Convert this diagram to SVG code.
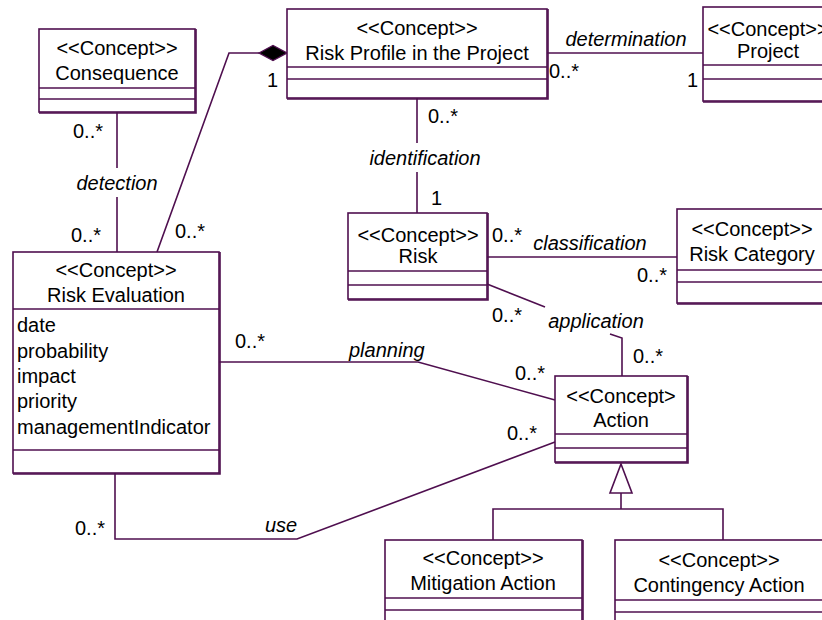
<svg xmlns="http://www.w3.org/2000/svg" width="822" height="620" viewBox="0 0 822 620">
<style>
.box{fill:#fff;stroke:#4f0f4f;stroke-width:1.6}
.sh{fill:none;stroke:#4f0f4f;stroke-width:1.6}
.div{stroke:#4f0f4f;stroke-width:1.4}
.ln{fill:none;stroke:#4f0f4f;stroke-width:1.6}
text{font-family:"Liberation Sans",Arial,sans-serif;font-size:20px;fill:#000}
.c{text-anchor:middle}
.i{font-style:italic}
</style>
<rect width="822" height="620" fill="#fff"/>
<g id="connectors">
  <!-- detection -->
  <line class="ln" x1="117" y1="112" x2="117" y2="168"/>
  <line class="ln" x1="117" y1="197" x2="117" y2="252"/>
  <text class="c i" x="117" y="190">detection</text>
  <text x="73" y="138">0..*</text>
  <text x="71" y="242">0..*</text>
  <!-- composition -->
  <polyline class="ln" points="157,252 229,53 259,53"/>
  <polygon points="259,53 273,45.5 287,53 273,60.5" fill="#000" stroke="#4f0f4f" stroke-width="1.4"/>
  <text x="175" y="238">0..*</text>
  <text x="267" y="87">1</text>
  <!-- determination -->
  <line class="ln" x1="547" y1="53" x2="703" y2="53"/>
  <text class="c i" x="626" y="46">determination</text>
  <text x="549" y="78">0..*</text>
  <text x="687" y="87">1</text>
  <!-- identification -->
  <line class="ln" x1="417" y1="98" x2="417" y2="143"/>
  <line class="ln" x1="417" y1="172" x2="417" y2="213"/>
  <text class="c i" x="425" y="165">identification</text>
  <text x="428" y="123">0..*</text>
  <text x="431" y="205">1</text>
  <!-- classification -->
  <line class="ln" x1="487" y1="257" x2="677" y2="257"/>
  <text class="c i" x="590" y="250">classification</text>
  <text x="492" y="242">0..*</text>
  <text x="637" y="282">0..*</text>
  <!-- application -->
  <polyline class="ln" points="487,284 545,307"/>
  <polyline class="ln" points="610,334 622,338 622,376"/>
  <text class="c i" x="596" y="328">application</text>
  <text x="492" y="322">0..*</text>
  <text x="633" y="363">0..*</text>
  <!-- planning -->
  <polyline class="ln" points="219,362 418,362 555,400"/>
  <text class="i" x="349" y="357">planning</text>
  <text x="235" y="348">0..*</text>
  <text x="515" y="380">0..*</text>
  <!-- use -->
  <polyline class="ln" points="115,473 115,539 297,539 555,442"/>
  <text class="i" x="265" y="532">use</text>
  <text x="75" y="535">0..*</text>
  <text x="507" y="440">0..*</text>
  <!-- generalization -->
  <polyline class="ln" points="493,540 493,509 723,509 723,540"/>
  <line class="ln" x1="621" y1="493" x2="621" y2="509"/>
  <polygon points="621,464 632,493 610,493" fill="#fff" stroke="#4f0f4f" stroke-width="1.6"/>
</g>
<g id="consequence">
  <rect class="box" x="39" y="29" width="156" height="83"/>
  <polyline class="sh" points="39,113 196,113 196,29"/>
  <line class="div" x1="39" y1="88" x2="195" y2="88"/>
  <line class="div" x1="39" y1="99" x2="195" y2="99"/>
  <text class="c" x="117" y="55">&lt;&lt;Concept&gt;&gt;</text>
  <text class="c" x="117" y="80">Consequence</text>
</g>
<g id="risk-profile">
  <rect class="box" x="287" y="9" width="260" height="89"/>
  <polyline class="sh" points="287,99 548,99 548,9"/>
  <line class="div" x1="287" y1="67" x2="547" y2="67"/>
  <line class="div" x1="287" y1="79" x2="547" y2="79"/>
  <text class="c" x="417" y="35">&lt;&lt;Concept&gt;&gt;</text>
  <text class="c" x="417" y="60">Risk Profile in the Project</text>
</g>
<g id="project">
  <rect class="box" x="703" y="7" width="130" height="94"/>
  <polyline class="sh" points="703,102 834,102"/>
  <line class="div" x1="703" y1="65" x2="833" y2="65"/>
  <line class="div" x1="703" y1="79" x2="833" y2="79"/>
  <text class="c" x="768" y="36">&lt;&lt;Concept&gt;&gt;</text>
  <text class="c" x="768" y="58">Project</text>
</g>
<g id="risk">
  <rect class="box" x="348" y="213" width="139" height="86"/>
  <polyline class="sh" points="348,300 488,300 488,213"/>
  <line class="div" x1="348" y1="271" x2="487" y2="271"/>
  <line class="div" x1="348" y1="285" x2="487" y2="285"/>
  <text class="c" x="418" y="242">&lt;&lt;Concept&gt;&gt;</text>
  <text class="c" x="418" y="263">Risk</text>
</g>
<g id="risk-category">
  <rect class="box" x="677" y="209" width="152" height="94"/>
  <polyline class="sh" points="677,304 830,304"/>
  <line class="div" x1="677" y1="270" x2="829" y2="270"/>
  <line class="div" x1="677" y1="282" x2="829" y2="282"/>
  <text class="c" x="752" y="236">&lt;&lt;Concept&gt;&gt;</text>
  <text class="c" x="752" y="261">Risk Category</text>
</g>
<g id="risk-evaluation">
  <rect class="box" x="13" y="252" width="206" height="221"/>
  <polyline class="sh" points="13,474 220,474 220,252"/>
  <line class="div" x1="13" y1="309" x2="219" y2="309"/>
  <line class="div" x1="13" y1="450" x2="219" y2="450"/>
  <text class="c" x="116" y="277">&lt;&lt;Concept&gt;&gt;</text>
  <text class="c" x="116" y="302">Risk Evaluation</text>
  <text x="17" y="332">date</text>
  <text x="17" y="357.5">probability</text>
  <text x="17" y="383">impact</text>
  <text x="17" y="408">priority</text>
  <text x="17" y="434">managementIndicator</text>
</g>
<g id="action">
  <rect class="box" x="555" y="376" width="132" height="86"/>
  <polyline class="sh" points="555,463 688,463 688,376"/>
  <line class="div" x1="555" y1="434" x2="687" y2="434"/>
  <line class="div" x1="555" y1="448" x2="687" y2="448"/>
  <text class="c" x="621" y="403">&lt;&lt;Concept&gt;</text>
  <text class="c" x="621" y="427">Action</text>
</g>
<g id="mitigation-action">
  <rect class="box" x="385" y="540" width="197" height="90"/>
  <polyline class="sh" points="583,540 583,630"/>
  <line class="div" x1="385" y1="598" x2="582" y2="598"/>
  <line class="div" x1="385" y1="610" x2="582" y2="610"/>
  <text class="c" x="483" y="565">&lt;&lt;Concept&gt;&gt;</text>
  <text class="c" x="483" y="590">Mitigation Action</text>
</g>
<g id="contingency-action">
  <rect class="box" x="615" y="540" width="215" height="90"/>
  <line class="div" x1="615" y1="600" x2="830" y2="600"/>
  <line class="div" x1="615" y1="612" x2="830" y2="612"/>
  <text class="c" x="719" y="567">&lt;&lt;Concept&gt;&gt;</text>
  <text class="c" x="719" y="592">Contingency Action</text>
</g>
</svg>
